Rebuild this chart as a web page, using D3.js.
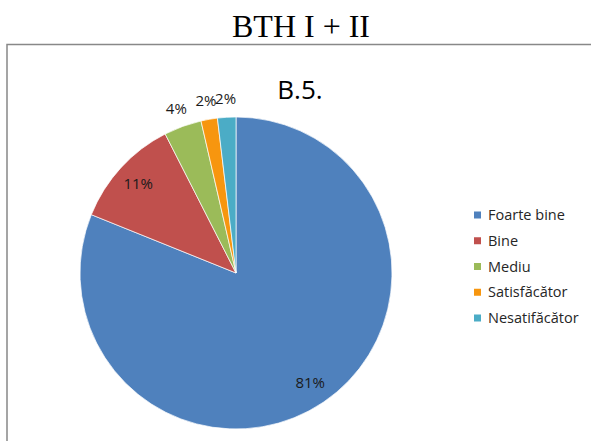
<!DOCTYPE html>
<meta charset="utf-8">
<style>
body { margin: 0; background: #fff; }
.title { font: 32px "Liberation Serif", "Times New Roman", serif; fill: #000; }
.subtitle { font: 26px "Open Sans", sans-serif; fill: #000; }
.label { font: 15px "Open Sans", sans-serif; fill: #1a1a1a; }
.legend text { font: 14.5px "Open Sans", sans-serif; fill: #262626; }
</style>
<svg width="591" height="441"></svg>
<script src="https://d3js.org/d3.v7.min.js"></script>
<script>
// values (share of answers, %)
var categories = ["Foarte bine", "Bine", "Mediu", "Satisfăcător", "Nesatifăcător"];
var values = [81.1, 11.4, 3.9, 1.7, 1.9];
var colors = ["#4F81BD", "#C0504D", "#9BBB59", "#F7960F", "#4BACC6"];

var svg = d3.select("svg");

svg.append("text").attr("class", "title")
    .attr("x", 301).attr("y", 37)
    .attr("text-anchor", "middle")
    .text("BTH I + II");

// chart frame (runs off the right and bottom edges)
svg.append("path")
    .attr("d", "M7,441V44.5H600")
    .attr("fill", "none")
    .attr("stroke", "#888")
    .attr("stroke-width", 1.5);

svg.append("text").attr("class", "subtitle")
    .attr("x", 300).attr("y", 99)
    .attr("text-anchor", "middle")
    .text("B.5.");

var cx = 236, cy = 273, r = 156;
var total = d3.sum(values);
var fmt = d3.format(".0%");

var pie = d3.pie().sort(null).value(function(d) { return d; });
var arcs = pie(values);
var arc = d3.arc().innerRadius(0).outerRadius(r);
var inLabel = d3.arc().innerRadius(r * 0.85).outerRadius(r * 0.85);
var outLabel = d3.arc().innerRadius(r * 1.12).outerRadius(r * 1.12);

var g = svg.append("g").attr("transform", "translate(" + cx + "," + cy + ")");

g.selectAll("path")
    .data(arcs)
    .enter().append("path")
    .attr("d", arc)
    .attr("fill", function(d, i) { return colors[i]; })
    .attr("stroke", "#fff")
    .attr("stroke-width", 0.7);

g.selectAll("text")
    .data(arcs)
    .enter().append("text")
    .attr("class", "label")
    .attr("text-anchor", "middle")
    .attr("dy", "0.35em")
    .attr("transform", function(d) {
        var share = d.value / total;
        var p = share < 0.05 ? outLabel.centroid(d) : inLabel.centroid(d);
        return "translate(" + p + ")";
    })
    .text(function(d) { return fmt(d.value / total); });

var y = d3.scalePoint().domain(categories).range([215, 318]);

var legend = svg.append("g").attr("class", "legend")
    .selectAll("g")
    .data(categories)
    .enter().append("g")
    .attr("transform", function(d) { return "translate(474," + y(d) + ")"; });

legend.append("rect")
    .attr("x", 0).attr("y", -3.5)
    .attr("width", 7).attr("height", 7)
    .attr("fill", function(d, i) { return colors[i]; });

legend.append("text")
    .attr("x", 14)
    .attr("dy", "0.35em")
    .text(function(d) { return d; });
</script>
